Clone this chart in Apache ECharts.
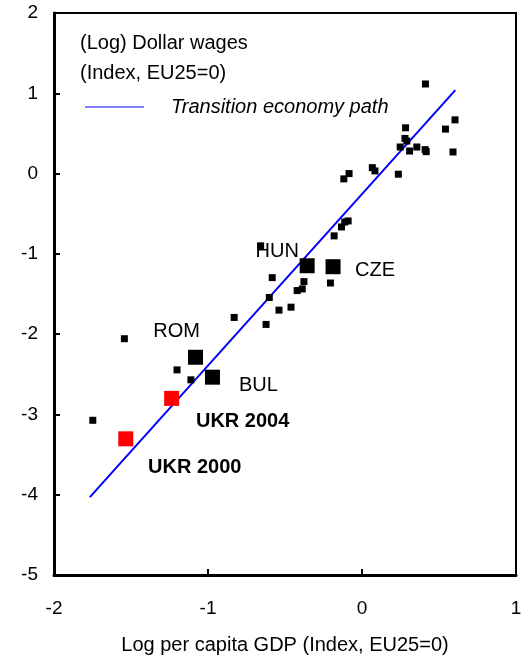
<!DOCTYPE html>
<html>
<head>
<meta charset="utf-8">
<script src="https://cdn.jsdelivr.net/npm/echarts@6/dist/echarts.min.js"></script>
<style>
  html, body { margin: 0; padding: 0; background: #fff; }
  #chart { width: 532px; height: 660px; }
</style>
</head>
<body>
<div id="chart"></div>
<script>
  // other transition economies (small squares)
  const otherX = [0.412, 0.604, 0.542, 0.283, 0.279, 0.291, 0.248, 0.309, 0.356, 0.410, 0.417, 0.591,
                  -0.084, -0.118, 0.067, 0.084, 0.236,
                  -0.090, -0.112, -0.133, -0.181, -0.658, -0.583, -0.377, -0.205, -0.388, -0.421,
                  -0.602, -0.461, -0.539, -0.830, -0.623,
                  -1.543, -1.201, -1.111, -1.748];
  const otherY = [1.116, 0.669, 0.554, 0.570, 0.438, 0.405, 0.331, 0.281, 0.331, 0.298, 0.273, 0.269,
                  0.000, -0.066, 0.074, 0.033, -0.008,
                  -0.590, -0.603, -0.665, -0.776, -0.900, -1.296, -1.346, -1.363, -1.437, -1.457,
                  -1.544, -1.664, -1.701, -1.792, -1.879,
                  -2.057, -2.445, -2.569, -3.073];

  // labelled countries (big black squares)
  const countryNames = ['HUN', 'CZE', 'ROM', 'BUL'];
  const countryX = [-0.356, -0.188, -1.081, -0.971];
  const countryY = [-1.148, -1.160, -2.288, -2.536];

  // Ukraine (red squares)
  const ukrNames = ['UKR 2004', 'UKR 2000'];
  const ukrX = [-1.236, -1.534];
  const ukrY = [-2.800, -3.304];

  // transition economy path (end points)
  const pathX = [-1.767, 0.606];
  const pathY = [-4.03, 1.04];

  const FONT = "'Liberation Sans', Arial, sans-serif";

  // where each label sits relative to its square
  const labelOffset = {
    'HUN': [-30, -14],
    'CZE': [42, 4],
    'ROM': [-19, -26],
    'BUL': [46, 8],
    'UKR 2004': [71, 23],
    'UKR 2000': [69, 29]
  };

  function pts(xs, ys) {
    return xs.map((x, i) => [x, ys[i]]);
  }

  function named(names, xs, ys) {
    return names.map((n, i) => ({
      name: n,
      value: [xs[i], ys[i]],
      label: { offset: labelOffset[n] }
    }));
  }

  const chart = echarts.init(document.getElementById('chart'));

  chart.setOption({
    animation: false,
    backgroundColor: '#fff',
    textStyle: { fontFamily: FONT },
    grid: {
      left: 54, right: 16, top: 13, bottom: 79,
      show: true, borderColor: '#000', borderWidth: 2
    },
    legend: {
      data: [{ name: 'Transition economy path', icon: 'rect' }],
      left: 80, top: 92,
      itemWidth: 59, itemHeight: 1,
      itemStyle: { color: '#0000ff' },
      textStyle: {
        fontFamily: FONT, fontSize: 20, fontStyle: 'italic', color: '#000',
        padding: [0, 0, 10, 22]
      }
    },
    graphic: [{
      type: 'text',
      left: 80, top: 28,
      style: {
        text: '(Log) Dollar wages\n(Index, EU25=0)',
        font: '20px ' + FONT,
        lineHeight: 30,
        fill: '#000'
      }
    }],
    xAxis: {
      type: 'value', min: -2, max: 1, interval: 1,
      name: 'Log per capita GDP (Index, EU25=0)',
      nameLocation: 'middle', nameGap: 60,
      nameTextStyle: { fontFamily: FONT, fontSize: 20, color: '#000' },
      axisLine: { onZero: false, lineStyle: { color: '#000', width: 3 } },
      axisTick: { inside: true, length: 6, lineStyle: { color: '#000', width: 2 } },
      axisLabel: { margin: 24, fontFamily: FONT, fontSize: 19, color: '#000' },
      splitLine: { show: false }
    },
    yAxis: {
      type: 'value', min: -5, max: 2, interval: 1,
      axisLine: { onZero: false, lineStyle: { color: '#000', width: 3 } },
      axisTick: { inside: true, length: 6, lineStyle: { color: '#000', width: 2 } },
      axisLabel: { margin: 16, fontFamily: FONT, fontSize: 19, color: '#000' },
      splitLine: { show: false }
    },
    series: [
      {
        name: 'Transition economy path',
        type: 'line',
        data: pts(pathX, pathY),
        symbol: 'none',
        color: '#0000ff',
        lineStyle: { color: '#0000ff', width: 2 },
        z: 1
      },
      {
        name: 'Other',
        type: 'scatter',
        data: pts(otherX, otherY),
        symbol: 'rect', symbolSize: 7,
        itemStyle: { color: '#000', opacity: 1 },
        z: 2
      },
      {
        name: 'Countries',
        type: 'scatter',
        data: named(countryNames, countryX, countryY),
        symbol: 'rect', symbolSize: 15,
        itemStyle: { color: '#000', opacity: 1 },
        label: {
          show: true, position: 'inside', formatter: '{b}',
          fontFamily: FONT, fontSize: 20, color: '#000', textBorderWidth: 0
        },
        z: 3
      },
      {
        name: 'Ukraine',
        type: 'scatter',
        data: named(ukrNames, ukrX, ukrY),
        symbol: 'rect', symbolSize: 15,
        itemStyle: { color: '#ff0000', opacity: 1 },
        label: {
          show: true, position: 'inside', formatter: '{b}',
          fontFamily: FONT, fontSize: 20, fontWeight: 'bold', color: '#000', textBorderWidth: 0
        },
        z: 3
      }
    ]
  });
</script>
</body>
</html>
